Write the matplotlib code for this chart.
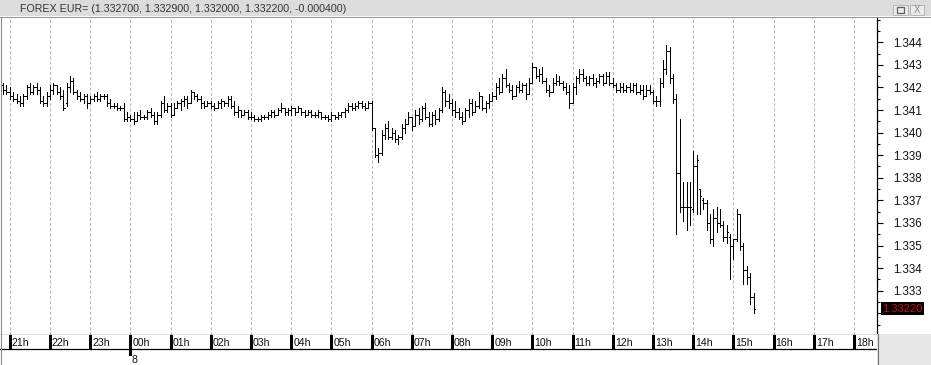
import numpy as np
import matplotlib.pyplot as plt
from matplotlib.patches import Rectangle
from matplotlib.lines import Line2D
from matplotlib.ticker import MultipleLocator
import matplotlib.transforms as mtransforms

# 5-minute OHLC bars, first bar at 20:50, last at 15:30
opens = [
    1.3421, 1.3419,
    1.3418, 1.3416, 1.3415, 1.3414, 1.3413, 1.3416, 1.3420, 1.3418, 1.3420, 1.3419, 1.3414, 1.3413,
    1.3416, 1.3419, 1.3421, 1.3418, 1.3416, 1.3413, 1.3420, 1.3423, 1.3418, 1.3416, 1.3415, 1.3416,
    1.3413, 1.3415, 1.3416, 1.3415, 1.3416, 1.3416, 1.3413, 1.3412, 1.3412, 1.3411, 1.3411, 1.3406,
    1.3407, 1.3406, 1.3405, 1.3408, 1.3407, 1.3407, 1.3409, 1.3408, 1.3405, 1.3408, 1.3413, 1.3410,
    1.3412, 1.3408, 1.3411, 1.3413, 1.3414, 1.3415, 1.3413, 1.3418, 1.3416, 1.3415, 1.3413, 1.3412,
    1.3413, 1.3412, 1.3411, 1.3413, 1.3414, 1.3413, 1.3415, 1.3412, 1.3409, 1.3410, 1.3408, 1.3409,
    1.3407, 1.3407, 1.3406, 1.3406, 1.3407, 1.3407, 1.3408, 1.3409, 1.3408, 1.3410, 1.3411, 1.3409,
    1.3410, 1.3411, 1.3409, 1.3411, 1.3409, 1.3408, 1.3409, 1.3408, 1.3408, 1.3409, 1.3407, 1.3407,
    1.3406, 1.3408, 1.3407, 1.3408, 1.3409, 1.3410, 1.3412, 1.3411, 1.3412, 1.3413, 1.3412, 1.3411,
    1.3413, 1.3402, 1.3390, 1.3391, 1.3399, 1.3402, 1.3398, 1.3400, 1.3397, 1.3398, 1.3402, 1.3404,
    1.3407, 1.3403, 1.3408, 1.3406, 1.3411, 1.3407, 1.3404, 1.3408, 1.3406, 1.3410, 1.3418, 1.3414,
    1.3413, 1.3410, 1.3409, 1.3407, 1.3405, 1.3410, 1.3413, 1.3409, 1.3412, 1.3416, 1.3411, 1.3413,
    1.3414, 1.3416, 1.3420, 1.3418, 1.3424, 1.3421, 1.3419, 1.3416, 1.3420, 1.3419, 1.3421, 1.3417,
    1.3422, 1.3429, 1.3425, 1.3426, 1.3423, 1.3419, 1.3418, 1.3422, 1.3423, 1.3422, 1.3420, 1.3418,
    1.3413, 1.3420, 1.3424, 1.3426, 1.3424, 1.3422, 1.3424, 1.3422, 1.3423, 1.3425, 1.3422, 1.3425,
    1.3422, 1.3421, 1.3419, 1.3420, 1.3419, 1.3420, 1.3419, 1.3421, 1.3418, 1.3419, 1.3416, 1.3419,
    1.3418, 1.3414, 1.3414, 1.3422, 1.3428, 1.3436, 1.3424, 1.3415, 1.3382, 1.3367, 1.3367, 1.3367,
    1.3366, 1.3385, 1.3375, 1.3370, 1.3369, 1.3360, 1.3353, 1.3362, 1.3360, 1.3359, 1.3354, 1.3354,
    1.3350, 1.3353, 1.3364, 1.3350, 1.3339, 1.3336, 1.3327,
]
highs = [
    1.3422, 1.3421,
    1.3420, 1.3418, 1.3417, 1.3416, 1.3417, 1.3421, 1.3422, 1.3421, 1.3422, 1.3420, 1.3416, 1.3418,
    1.3421, 1.3422, 1.3421, 1.3420, 1.3419, 1.3422, 1.3425, 1.3424, 1.3419, 1.3418, 1.3417, 1.3417,
    1.3416, 1.3417, 1.3418, 1.3417, 1.3417, 1.3417, 1.3415, 1.3413, 1.3413, 1.3412, 1.3413, 1.3409,
    1.3408, 1.3409, 1.3409, 1.3410, 1.3408, 1.3410, 1.3411, 1.3409, 1.3409, 1.3414, 1.3416, 1.3413,
    1.3413, 1.3413, 1.3414, 1.3415, 1.3416, 1.3416, 1.3419, 1.3418, 1.3417, 1.3416, 1.3414, 1.3414,
    1.3414, 1.3413, 1.3414, 1.3415, 1.3414, 1.3416, 1.3416, 1.3414, 1.3412, 1.3410, 1.3410, 1.3410,
    1.3409, 1.3408, 1.3407, 1.3408, 1.3408, 1.3409, 1.3410, 1.3410, 1.3411, 1.3413, 1.3411, 1.3411,
    1.3412, 1.3411, 1.3412, 1.3411, 1.3410, 1.3410, 1.3410, 1.3409, 1.3410, 1.3409, 1.3408, 1.3408,
    1.3409, 1.3408, 1.3409, 1.3409, 1.3411, 1.3413, 1.3413, 1.3413, 1.3414, 1.3414, 1.3413, 1.3414,
    1.3414, 1.3402, 1.3393, 1.3401, 1.3404, 1.3405, 1.3402, 1.3401, 1.3399, 1.3404, 1.3406, 1.3409,
    1.3407, 1.3410, 1.3411, 1.3412, 1.3413, 1.3409, 1.3409, 1.3410, 1.3411, 1.3420, 1.3419, 1.3417,
    1.3415, 1.3414, 1.3411, 1.3409, 1.3411, 1.3415, 1.3415, 1.3414, 1.3418, 1.3416, 1.3414, 1.3417,
    1.3418, 1.3422, 1.3424, 1.3426, 1.3428, 1.3422, 1.3421, 1.3421, 1.3423, 1.3422, 1.3422, 1.3424,
    1.3431, 1.3429, 1.3428, 1.3429, 1.3424, 1.3421, 1.3424, 1.3426, 1.3425, 1.3423, 1.3422, 1.3421,
    1.3422, 1.3425, 1.3428, 1.3428, 1.3425, 1.3425, 1.3426, 1.3424, 1.3426, 1.3426, 1.3427, 1.3427,
    1.3424, 1.3422, 1.3422, 1.3422, 1.3421, 1.3422, 1.3422, 1.3422, 1.3421, 1.3421, 1.3421, 1.3421,
    1.3419, 1.3416, 1.3424, 1.3432, 1.3439, 1.3438, 1.3426, 1.3417, 1.3406, 1.3378, 1.3378, 1.3378,
    1.3392, 1.3390, 1.3375, 1.3371, 1.3370, 1.3364, 1.3366, 1.3367, 1.3366, 1.3361, 1.3359, 1.3355,
    1.3353, 1.3366, 1.3364, 1.3351, 1.3341, 1.3338, 1.3329,
]
lows = [
    1.3417, 1.3417,
    1.3415, 1.3414, 1.3413, 1.3412, 1.3412, 1.3415, 1.3417, 1.3417, 1.3417, 1.3413, 1.3412, 1.3412,
    1.3415, 1.3417, 1.3417, 1.3415, 1.3410, 1.3412, 1.3418, 1.3417, 1.3415, 1.3414, 1.3413, 1.3411,
    1.3413, 1.3414, 1.3414, 1.3414, 1.3415, 1.3412, 1.3411, 1.3411, 1.3410, 1.3410, 1.3405, 1.3405,
    1.3405, 1.3404, 1.3405, 1.3406, 1.3406, 1.3406, 1.3407, 1.3404, 1.3404, 1.3407, 1.3409, 1.3409,
    1.3407, 1.3408, 1.3411, 1.3410, 1.3412, 1.3411, 1.3413, 1.3415, 1.3414, 1.3411, 1.3411, 1.3412,
    1.3411, 1.3410, 1.3411, 1.3411, 1.3412, 1.3412, 1.3411, 1.3408, 1.3407, 1.3407, 1.3408, 1.3406,
    1.3406, 1.3405, 1.3405, 1.3405, 1.3406, 1.3406, 1.3407, 1.3407, 1.3408, 1.3409, 1.3408, 1.3408,
    1.3408, 1.3408, 1.3409, 1.3408, 1.3407, 1.3408, 1.3407, 1.3407, 1.3407, 1.3406, 1.3406, 1.3405,
    1.3405, 1.3406, 1.3406, 1.3407, 1.3407, 1.3409, 1.3410, 1.3410, 1.3411, 1.3411, 1.3410, 1.3411,
    1.3401, 1.3389, 1.3387, 1.3390, 1.3397, 1.3397, 1.3397, 1.3396, 1.3395, 1.3397, 1.3400, 1.3404,
    1.3401, 1.3403, 1.3404, 1.3405, 1.3406, 1.3403, 1.3403, 1.3404, 1.3405, 1.3409, 1.3412, 1.3411,
    1.3408, 1.3407, 1.3406, 1.3404, 1.3405, 1.3407, 1.3408, 1.3409, 1.3411, 1.3410, 1.3409, 1.3411,
    1.3414, 1.3415, 1.3417, 1.3418, 1.3420, 1.3418, 1.3415, 1.3416, 1.3418, 1.3418, 1.3415, 1.3417,
    1.3422, 1.3424, 1.3423, 1.3422, 1.3418, 1.3416, 1.3418, 1.3421, 1.3421, 1.3419, 1.3417, 1.3411,
    1.3413, 1.3417, 1.3422, 1.3423, 1.3421, 1.3421, 1.3421, 1.3420, 1.3422, 1.3421, 1.3422, 1.3421,
    1.3420, 1.3418, 1.3418, 1.3418, 1.3418, 1.3418, 1.3418, 1.3417, 1.3417, 1.3415, 1.3416, 1.3417,
    1.3413, 1.3412, 1.3412, 1.3420, 1.3426, 1.3422, 1.3413, 1.3355, 1.3365, 1.3361, 1.3357, 1.3359,
    1.3365, 1.3364, 1.3364, 1.3366, 1.3357, 1.3351, 1.3350, 1.3356, 1.3358, 1.3352, 1.3351, 1.3335,
    1.3344, 1.3352, 1.3348, 1.3333, 1.3333, 1.3324, 1.3320,
]
closes = [
    1.3419, 1.3418,
    1.3416, 1.3415, 1.3414, 1.3413, 1.3416, 1.3420, 1.3418, 1.3420, 1.3419, 1.3414, 1.3413, 1.3416,
    1.3419, 1.3421, 1.3418, 1.3416, 1.3411, 1.3420, 1.3423, 1.3418, 1.3416, 1.3415, 1.3416, 1.3413,
    1.3415, 1.3416, 1.3415, 1.3416, 1.3416, 1.3413, 1.3412, 1.3412, 1.3411, 1.3411, 1.3406, 1.3407,
    1.3406, 1.3405, 1.3408, 1.3407, 1.3407, 1.3409, 1.3408, 1.3405, 1.3408, 1.3413, 1.3410, 1.3412,
    1.3408, 1.3411, 1.3413, 1.3414, 1.3415, 1.3413, 1.3418, 1.3416, 1.3415, 1.3413, 1.3412, 1.3413,
    1.3412, 1.3411, 1.3413, 1.3414, 1.3413, 1.3415, 1.3412, 1.3409, 1.3410, 1.3408, 1.3409, 1.3407,
    1.3407, 1.3406, 1.3406, 1.3407, 1.3407, 1.3408, 1.3409, 1.3408, 1.3410, 1.3411, 1.3409, 1.3410,
    1.3411, 1.3409, 1.3411, 1.3409, 1.3408, 1.3409, 1.3408, 1.3408, 1.3409, 1.3407, 1.3407, 1.3406,
    1.3408, 1.3407, 1.3408, 1.3409, 1.3410, 1.3412, 1.3411, 1.3412, 1.3413, 1.3412, 1.3411, 1.3413,
    1.3402, 1.3390, 1.3391, 1.3399, 1.3402, 1.3398, 1.3400, 1.3397, 1.3398, 1.3402, 1.3404, 1.3407,
    1.3403, 1.3408, 1.3406, 1.3411, 1.3407, 1.3404, 1.3408, 1.3406, 1.3410, 1.3418, 1.3414, 1.3413,
    1.3410, 1.3409, 1.3407, 1.3405, 1.3410, 1.3413, 1.3409, 1.3412, 1.3416, 1.3411, 1.3413, 1.3414,
    1.3416, 1.3420, 1.3418, 1.3424, 1.3421, 1.3419, 1.3416, 1.3420, 1.3419, 1.3421, 1.3417, 1.3422,
    1.3429, 1.3425, 1.3426, 1.3423, 1.3419, 1.3418, 1.3422, 1.3423, 1.3422, 1.3420, 1.3418, 1.3413,
    1.3420, 1.3424, 1.3426, 1.3424, 1.3422, 1.3424, 1.3422, 1.3423, 1.3425, 1.3422, 1.3425, 1.3422,
    1.3421, 1.3419, 1.3420, 1.3419, 1.3420, 1.3419, 1.3421, 1.3418, 1.3419, 1.3416, 1.3419, 1.3418,
    1.3414, 1.3414, 1.3422, 1.3428, 1.3436, 1.3424, 1.3415, 1.3382, 1.3367, 1.3367, 1.3367, 1.3367,
    1.3385, 1.3388, 1.3372, 1.3369, 1.3360, 1.3353, 1.3362, 1.3360, 1.3359, 1.3354, 1.3356, 1.3350,
    1.3353, 1.3364, 1.3350, 1.3339, 1.3336, 1.3327, 1.3322,
]

hour_labels = ['21h', '22h', '23h', '00h', '01h', '02h', '03h', '04h', '05h', '06h', '07h',
               '08h', '09h', '10h', '11h', '12h', '13h', '14h', '15h', '16h', '17h', '18h']
date_label = '8'
date_hour_index = 3
price_ticks = [1.332, 1.333, 1.334, 1.335, 1.336, 1.337, 1.338, 1.339, 1.340, 1.341, 1.342, 1.343, 1.344]
title = 'FOREX EUR= (1.332700, 1.332900, 1.332000, 1.332200, -0.000400)'
last_price = 1.3322

# bar times in hours after 21:00 (first bar 20:50, 5 minute bars)
t = -10 / 60 + np.arange(len(closes)) * 5 / 60

W, H = 931, 365
fig = plt.figure(figsize=(W / 100, H / 100), dpi=100)
plt.rcParams['font.family'] = ['Liberation Sans', 'DejaVu Sans']

def fx(px):
    return px / W

def fy(py):
    return 1 - py / H

PX_HOUR = 40.2
X0 = 9.8          # pixel of 21h
RIGHT = 877       # pixel of price axis
xlim = (-X0 / PX_HOUR, (RIGHT - X0) / PX_HOUR)
PX_UNIT = 22580   # pixels per 1.0 price
ylim = (1.333 - (335 - 290.7) / PX_UNIT, 1.344 + (42.3 - 17) / PX_UNIT)

# main price panel
ax = fig.add_axes([0, fy(335), fx(RIGHT), (335 - 17) / H])
ax.set_xlim(*xlim)
ax.set_ylim(*ylim)
ax.set_xticks(range(len(hour_labels)))
ax.tick_params(axis='x', length=0, labelbottom=False)
ax.grid(axis='x', color='#b8b8b8', linestyle=(0, (3, 2)), linewidth=0.75)
for s in ['left', 'top']:
    ax.spines[s].set_visible(False)
ax.spines['right'].set_linewidth(0.9)
ax.spines['bottom'].set_linewidth(0.9)

ax.yaxis.tick_right()
ax.set_yticks(price_ticks)
# the 1.332 label is hidden under the last-price box
ax.set_yticklabels(['' if abs(p - 1.332) < 1e-9 else '%.3f' % p for p in price_ticks])
ax.yaxis.set_minor_locator(MultipleLocator(0.0005))
ax.tick_params(axis='y', which='major', length=4.5, width=0.8, pad=7, labelsize=8.3, labelcolor='#111111')
ax.tick_params(axis='y', which='minor', length=2.2, width=0.8)

tick = 1.2 / PX_HOUR
ax.vlines(t, lows, highs, color='black', linewidth=0.6, antialiased=False)
ax.hlines(opens, t - tick, t, color='black', linewidth=0.6, antialiased=False)
ax.hlines(closes, t, t + tick, color='black', linewidth=0.6, antialiased=False)

# last price marker
trans = mtransforms.blended_transform_factory(ax.transAxes, ax.transData)
ax.text(1 + 5.5 / RIGHT, last_price, '%.5f' % last_price, transform=trans, ha='left', va='center',
        fontsize=8, color='#d01010', clip_on=False, zorder=10,
        bbox=dict(boxstyle='square,pad=0.12', fc='black', ec='none'))

# hour label row
ax2 = fig.add_axes([0, fy(349), fx(RIGHT), 14 / H])
ax2.set_xlim(*xlim)
ax2.set_ylim(0, 1)
ax2.set_xticks([])
ax2.set_yticks([])
for s in ['left', 'top', 'right']:
    ax2.spines[s].set_visible(False)
ax2.spines['bottom'].set_linewidth(0.9)
ax2.vlines(range(len(hour_labels)), 0, 1, color='black', linewidth=0.8, antialiased=False)
for i, lab in enumerate(hour_labels):
    ax2.text(i + 2 / PX_HOUR, 0.45, lab, ha='left', va='center', fontsize=7.6,
             family=['Liberation Sans Narrow', 'Liberation Sans'], color='#111111')

# date row
ax3 = fig.add_axes([0, 0, fx(RIGHT), 16 / H])
ax3.set_xlim(*xlim)
ax3.set_ylim(0, 1)
ax3.axis('off')
ax3.vlines(date_hour_index, 0.62, 1, color='black', linewidth=0.8, antialiased=False)
ax3.text(date_hour_index + 1.5 / PX_HOUR, 0.3, date_label, ha='left', va='center', fontsize=7.6,
         family=['Liberation Sans Narrow', 'Liberation Sans'], color='#111111')

# window chrome
fig.patches.append(Rectangle((0, fy(16)), 1, 16 / H, transform=fig.transFigure,
                             facecolor='#dcdcdc', edgecolor='none', zorder=0))
fig.lines.append(Line2D([0, 1], [fy(16.5), fy(16.5)], transform=fig.transFigure, color='#9a9a9a', lw=0.8))
fig.text(fx(20), fy(8.5), title, ha='left', va='center', fontsize=7.7, color='#333333')
fig.patches.append(Rectangle((fx(893), fy(15)), fx(15), 10 / H, transform=fig.transFigure,
                             facecolor='#ebebeb', edgecolor='#b5b5b5', lw=0.7))
fig.patches.append(Rectangle((fx(897), fy(13)), fx(7), 6 / H, transform=fig.transFigure,
                             facecolor='none', edgecolor='#606060', lw=0.9))
fig.patches.append(Rectangle((fx(910), fy(15)), fx(14), 10 / H, transform=fig.transFigure,
                             facecolor='#ebebeb', edgecolor='#b5b5b5', lw=0.7))
fig.text(fx(917), fy(10), 'X', ha='center', va='center', fontsize=7, color='#888888')
fig.patches.append(Rectangle((fx(RIGHT), 0), fx(W - RIGHT), fy(334), transform=fig.transFigure,
                             facecolor='#e6e6e6', edgecolor='none', zorder=0))
fig.lines.append(Line2D([fx(RIGHT + 0.5), fx(RIGHT + 0.5)], [0, fy(334)], transform=fig.transFigure,
                        color='#707070', lw=0.8))
fig.lines.append(Line2D([fx(0.5), fx(0.5)], [0, fy(17)], transform=fig.transFigure,
                        color='#8a8a8a', lw=0.8))

fig.savefig('out.png', dpi=100)
